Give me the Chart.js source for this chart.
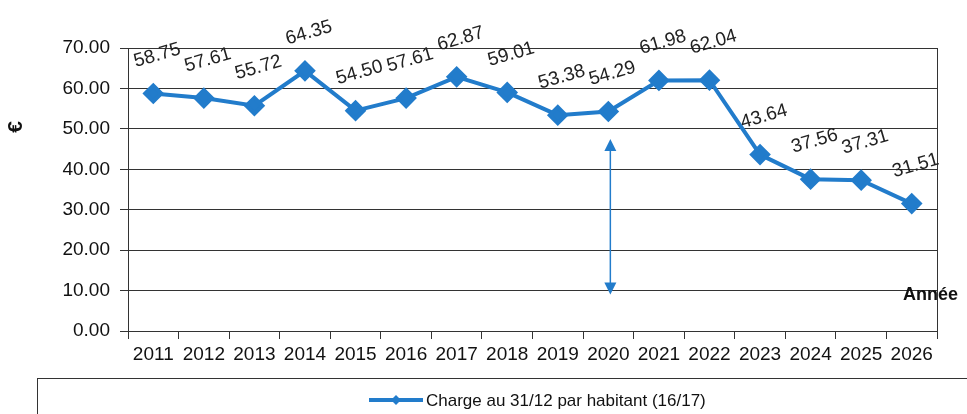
<!DOCTYPE html>
<html>
<head>
<meta charset="utf-8">
<script src="https://cdn.jsdelivr.net/npm/chart.js@4.4.1/dist/chart.umd.min.js"></script>
<style>
  html, body { margin: 0; padding: 0; background: #fff; }
  #wrap { width: 967px; height: 414px; position: relative; }
</style>
</head>
<body>
<div id="wrap"><canvas id="chargeChart"></canvas></div>
<script>
// data
const years = ["2011", "2012", "2013", "2014", "2015", "2016", "2017", "2018",
               "2019", "2020", "2021", "2022", "2023", "2024", "2025", "2026"];
const charges = [58.75, 57.61, 55.72, 64.35, 54.50, 57.61, 62.87, 59.01,
                 53.38, 54.29, 61.98, 62.04, 43.64, 37.56, 37.31, 31.51];
const yTicks = [0, 10, 20, 30, 40, 50, 60, 70];
const seriesName = "Charge au 31/12 par habitant (16/17)";

// the double arrow under 2020
const arrowYear = "2020";
const arrowTop = 47.5;
const arrowBottom = 9;

const blue = "rgb(34,124,203)";
const font = "'Liberation Sans', Arial, sans-serif";

const extras = {
    id: "extras",
    afterDatasetsDraw(chart) {
        const { ctx, chartArea, scales } = chart;
        const x = scales.x, y = scales.y;
        ctx.save();

        // right border of plot
        ctx.strokeStyle = "#333";
        ctx.lineWidth = 1;
        ctx.beginPath();
        ctx.moveTo(chartArea.right + 0.5, chartArea.top);
        ctx.lineTo(chartArea.right + 0.5, chartArea.bottom);
        ctx.stroke();

        // value labels, tilted
        ctx.font = "19px " + font;
        ctx.fillStyle = "#222";
        ctx.textAlign = "center";
        ctx.textBaseline = "middle";
        const meta = chart.getDatasetMeta(0);
        meta.data.forEach((pt, i) => {
            ctx.save();
            ctx.translate(pt.x + 4, pt.y - 38);
            ctx.rotate(-16 * Math.PI / 180);
            ctx.fillText(charges[i].toFixed(2), 0, 0);
            ctx.restore();
        });

        // double arrow
        const ax = x.getPixelForValue(years.indexOf(arrowYear)) + 2;
        const y1 = y.getPixelForValue(arrowTop);
        const y2 = y.getPixelForValue(arrowBottom);
        ctx.strokeStyle = blue;
        ctx.fillStyle = blue;
        ctx.lineWidth = 1.5;
        ctx.beginPath();
        ctx.moveTo(ax, y1 + 10);
        ctx.lineTo(ax, y2 - 10);
        ctx.stroke();
        ctx.beginPath();
        ctx.moveTo(ax, y1);
        ctx.lineTo(ax - 6, y1 + 12);
        ctx.lineTo(ax + 6, y1 + 12);
        ctx.closePath();
        ctx.fill();
        ctx.beginPath();
        ctx.moveTo(ax, y2);
        ctx.lineTo(ax - 6, y2 - 12);
        ctx.lineTo(ax + 6, y2 - 12);
        ctx.closePath();
        ctx.fill();

        // axis titles
        ctx.fillStyle = "#111";
        ctx.font = "bold 18px " + font;
        ctx.textAlign = "left";
        ctx.fillText("Année", 903, y.getPixelForValue(9));
        ctx.save();
        ctx.translate(16, 127);
        ctx.rotate(-Math.PI / 2);
        ctx.textAlign = "center";
        ctx.font = "bold 21px " + font;
        ctx.fillText("€", 0, 0);
        ctx.restore();

        // legend box
        ctx.strokeStyle = "#333";
        ctx.lineWidth = 1;
        ctx.strokeRect(37.5, 378.5, 960, 60);
        ctx.strokeStyle = blue;
        ctx.lineWidth = 4;
        ctx.beginPath();
        ctx.moveTo(369, 400);
        ctx.lineTo(423, 400);
        ctx.stroke();
        ctx.fillStyle = blue;
        ctx.beginPath();
        ctx.moveTo(396, 395);
        ctx.lineTo(401, 400);
        ctx.lineTo(396, 405);
        ctx.lineTo(391, 400);
        ctx.closePath();
        ctx.fill();
        ctx.fillStyle = "#111";
        ctx.font = "17px " + font;
        ctx.textAlign = "left";
        ctx.fillText(seriesName, 426, 401);

        ctx.restore();
    }
};

new Chart(document.getElementById("chargeChart"), {
    type: "line",
    data: {
        labels: years,
        datasets: [{
            label: seriesName,
            data: charges,
            borderColor: blue,
            backgroundColor: blue,
            borderWidth: 4,
            pointStyle: "rectRot",
            pointRadius: 8,
            pointHoverRadius: 8,
            tension: 0
        }]
    },
    options: {
        responsive: true,
        maintainAspectRatio: false,
        animation: false,
        layout: { padding: { top: 48, right: 30, bottom: 36, left: 0 } },
        plugins: {
            legend: { display: false },
            tooltip: { enabled: false }
        },
        scales: {
            x: {
                offset: true,
                grid: { offset: true, drawOnChartArea: false, drawTicks: true, tickLength: 8, color: "#333" },
                border: { color: "#333", width: 1 },
                ticks: { color: "#111", font: { family: font, size: 19 }, padding: 4, maxRotation: 0, autoSkip: false },
                afterFit(scale) { scale.height = 47; }
            },
            y: {
                min: 0,
                max: 70,
                afterBuildTicks(scale) { scale.ticks = yTicks.map(v => ({ value: v })); },
                grid: { color: "#333", tickLength: 8 },
                border: { color: "#333", width: 1 },
                ticks: {
                    color: "#111",
                    font: { family: font, size: 19 },
                    padding: 10,
                    callback: v => v.toFixed(2)
                },
                afterFit(scale) { scale.width = 128; }
            }
        }
    },
    plugins: [extras]
});
</script>
</body>
</html>
